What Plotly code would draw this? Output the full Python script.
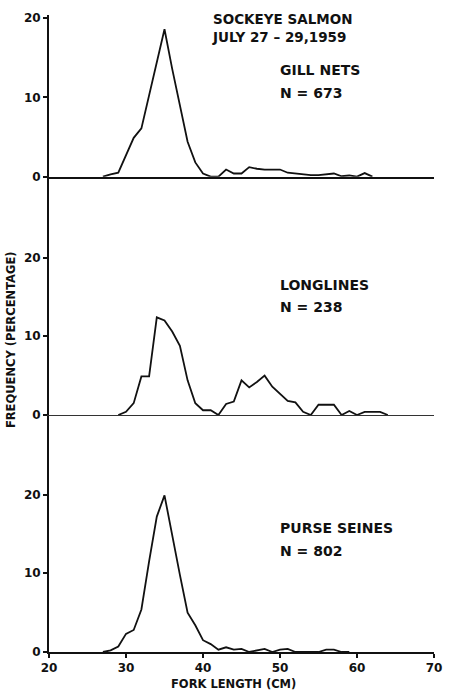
import plotly.graph_objects as go

# Fork length (cm) and percentage frequency for each gear type
gill_len = list(range(27, 63))
gill_pct = [0, 0.3, 0.5, 2.7, 4.9, 6.1, 10.2, 14.4, 18.6, 13.6, 8.9, 4.4, 1.8, 0.4,
            0, 0, 0.9, 0.4, 0.4, 1.2, 1.0, 0.9, 0.9, 0.9, 0.5, 0.4, 0.3, 0.2, 0.2, 0.3,
            0.4, 0.05, 0.15, 0, 0.45, 0]

long_len = list(range(29, 65))
long_pct = [0, 0.4, 1.5, 4.9, 4.9, 12.4, 12.0, 10.6, 8.8, 4.4, 1.5, 0.6, 0.6, 0,
            1.4, 1.7, 4.4, 3.5, 4.2, 5.0, 3.6, 2.7, 1.8, 1.6, 0.4, 0, 1.3, 1.3, 1.3,
            0, 0.5, 0, 0.4, 0.4, 0.4, 0]

purse_len = list(range(27, 60))
purse_pct = [0, 0.2, 0.7, 2.3, 2.8, 5.4, 11.5, 17.2, 19.9, 14.6, 9.8, 5.0, 3.4, 1.5,
             1.0, 0.3, 0.6, 0.3, 0.4, 0, 0.2, 0.4, 0, 0.3, 0.4, 0, 0, 0, 0, 0.3, 0.3,
             0, 0]

x_ticks = [20, 30, 40, 50, 60, 70]
y_ticks = [0, 10, 20]

FONT = "DejaVu Sans"
INK = "#111111"

line_style = dict(color=INK, width=1.8)

fig = go.Figure()
fig.add_trace(go.Scatter(x=gill_len, y=gill_pct, mode="lines", line=line_style,
                         xaxis="x3", yaxis="y3", showlegend=False))
fig.add_trace(go.Scatter(x=long_len, y=long_pct, mode="lines", line=line_style,
                         xaxis="x2", yaxis="y2", showlegend=False))
fig.add_trace(go.Scatter(x=purse_len, y=purse_pct, mode="lines", line=line_style,
                         xaxis="x", yaxis="y", showlegend=False))

tick_font = dict(family=FONT, size=12, color=INK, weight="bold")

yaxis_common = dict(tickvals=y_ticks, ticks="outside", ticklen=4, tickwidth=1.5,
                    tickcolor=INK, showline=True, linecolor=INK, linewidth=2,
                    showgrid=False, zeroline=False, tickfont=tick_font, fixedrange=True)

h_bot = 0.3721
h_mid = 0.7462

fig.update_layout(
    width=451, height=693,
    margin=dict(l=49, r=9, t=15, b=41),
    plot_bgcolor="white", paper_bgcolor="white",
    xaxis=dict(domain=[0, 1], range=[20, 70], anchor="y", tickvals=x_ticks,
               ticks="outside", ticklen=4, tickwidth=1.5, tickcolor=INK,
               showline=True, linecolor=INK, linewidth=2, showgrid=False,
               zeroline=False, tickfont=tick_font),
    xaxis2=dict(domain=[0, 1], range=[20, 70], anchor="y2", showticklabels=False,
                ticks="", showline=True, linecolor="#333333", linewidth=1,
                showgrid=False, zeroline=False),
    xaxis3=dict(domain=[0, 1], range=[20, 70], anchor="y3", showticklabels=False,
                ticks="", showline=True, linecolor=INK, linewidth=2,
                showgrid=False, zeroline=False),
    yaxis=dict(domain=[0, h_bot], range=[0, 30.11], **yaxis_common),
    yaxis2=dict(domain=[h_bot, h_mid], range=[0, 30.28], **yaxis_common),
    yaxis3=dict(domain=[h_mid, 1], range=[0, 20.4], **yaxis_common),
)

def label(text, x, y, yref, size=14):
    xref = "x" if yref == "y" else yref.replace("y", "x")
    fig.add_annotation(text=text, x=x, y=y, xref=xref, yref=yref, xanchor="left",
                       yanchor="middle", align="left", showarrow=False,
                       font=dict(family=FONT, size=size, color=INK, weight="bold"))

label("SOCKEYE SALMON<br>JULY 27 – 29,1959", 40.9, 18.8, "y3", size=13.5)
label("GILL NETS", 49.8, 13.4, "y3")
label("N = 673", 49.8, 10.6, "y3")
label("LONGLINES", 49.8, 16.5, "y2")
label("N = 238", 49.8, 13.7, "y2")
label("PURSE SEINES", 49.8, 15.7, "y")
label("N = 802", 49.8, 12.8, "y")

title_font = dict(family=FONT, size=11.5, color=INK, weight="bold")
fig.add_annotation(text="FREQUENCY (PERCENTAGE)", x=-0.099, y=0.491, xref="paper",
                   yref="paper", textangle=-90, showarrow=False, xanchor="center",
                   yanchor="middle", font=title_font)
fig.add_annotation(text="FORK LENGTH (CM)", x=0.478, y=-0.0495, xref="paper",
                   yref="paper", showarrow=False, xanchor="center", yanchor="middle",
                   font=title_font)

fig.write_html("out.html")
